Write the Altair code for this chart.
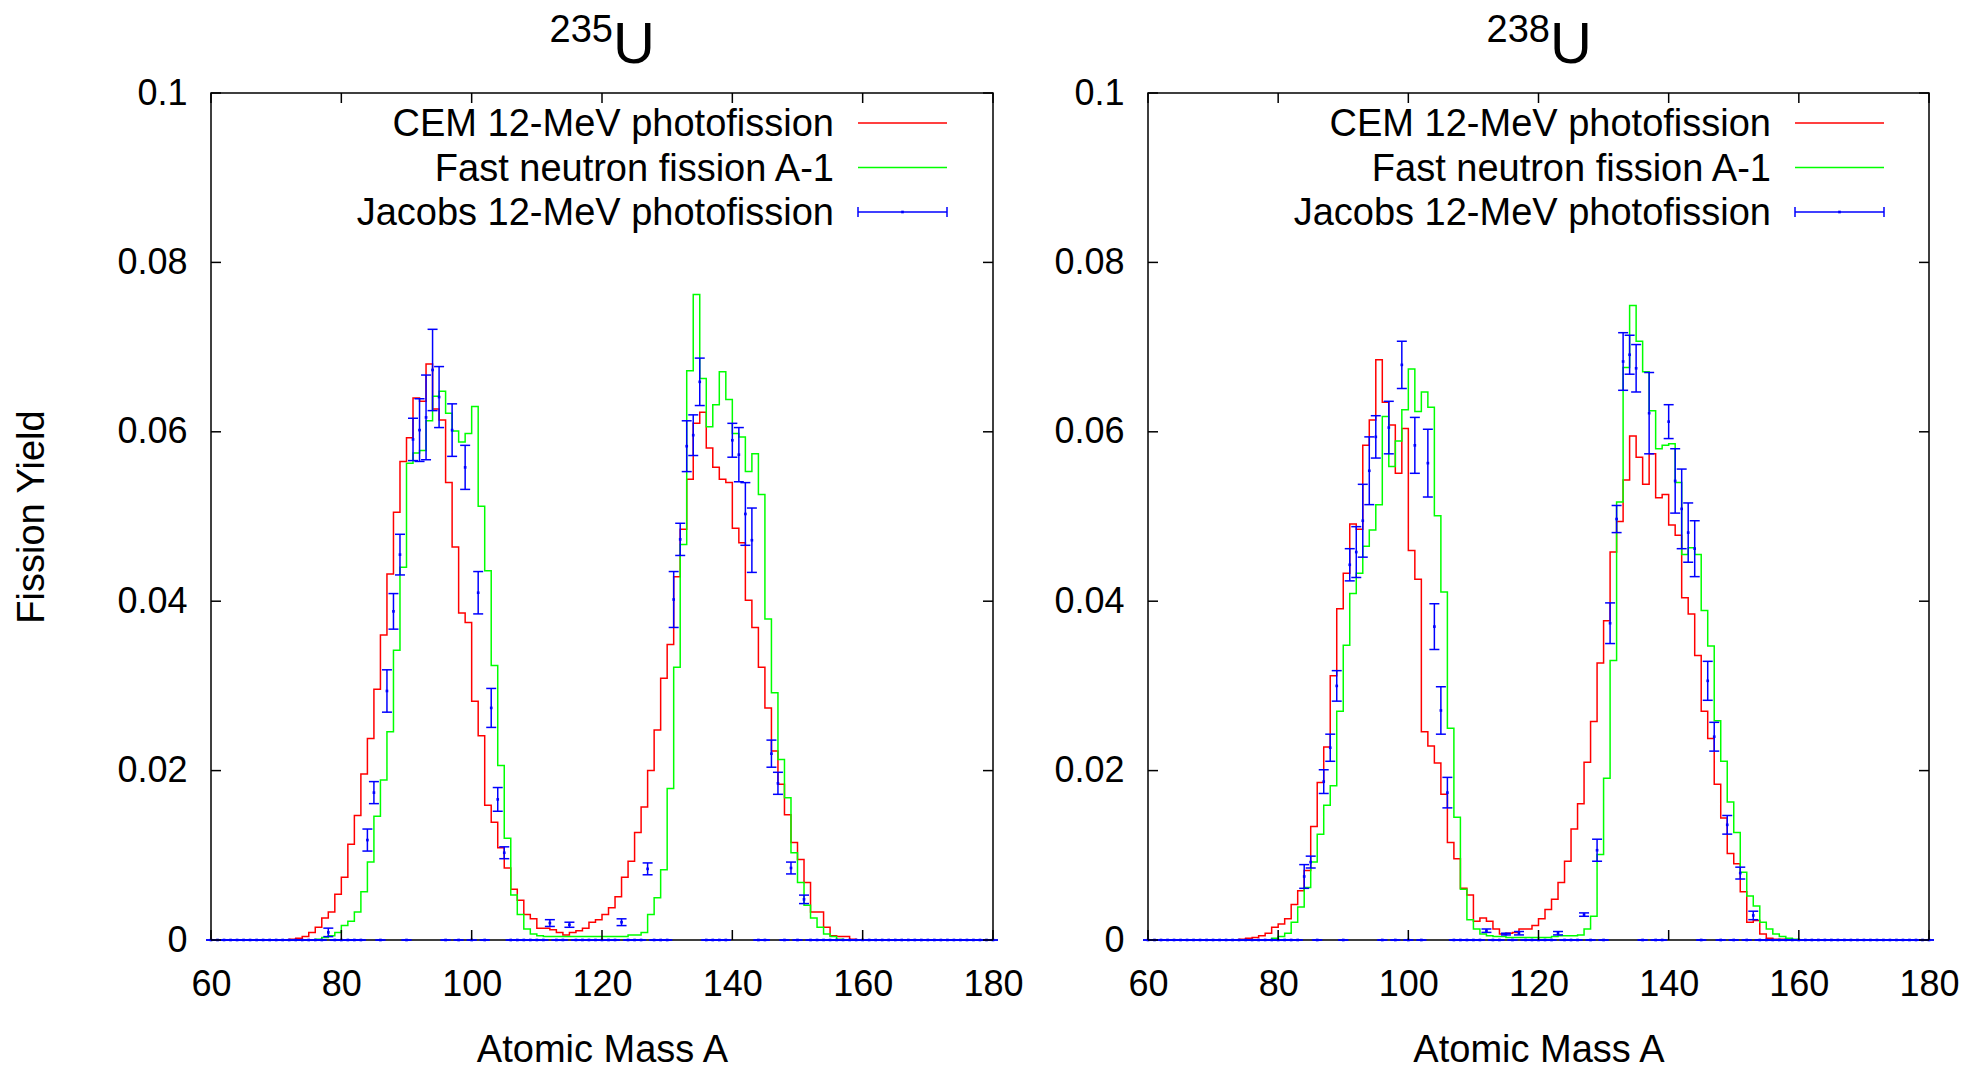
import altair as alt
import pandas as pd

FONT = "Liberation Sans"
RED, GREEN, BLUE = "#ff0000", "#00ff00", "#0000ff"

# mass numbers A on the x axis (one histogram bin per A)
mass_numbers = list(range(60, 181))

x_ticks = [60, 80, 100, 120, 140, 160, 180]
y_ticks = [0, 0.02, 0.04, 0.06, 0.08, 0.1]
legend_labels = ["CEM 12-MeV photofission", "Fast neutron fission A-1", "Jacobs 12-MeV photofission"]
panel_titles = ["235", "238"]

# ---------------- 235U ----------------
cem_235 = [
    0, 0, 0, 0, 0, 0, 0, 0, 0, 0,
    0, 0, 0.0001, 0.0002, 0.0004, 0.0009, 0.0015, 0.0026, 0.0033, 0.0054,
    0.0074, 0.0113, 0.0147, 0.0196, 0.0238, 0.0296, 0.0360, 0.0432, 0.0505, 0.0565,
    0.0593, 0.0640, 0.0636, 0.0680, 0.0627, 0.0614, 0.0540, 0.0464, 0.0386, 0.0375,
    0.0282, 0.0241, 0.0159, 0.0139, 0.0109, 0.0085, 0.0060, 0.0047, 0.0030, 0.0025,
    0.0014, 0.0014, 0.0012, 0.0009, 0.0006, 0.0009, 0.0011, 0.0014, 0.0021, 0.0024,
    0.0030, 0.0038, 0.0051, 0.0074, 0.0093, 0.0127, 0.0157, 0.0200, 0.0248, 0.0309,
    0.0349, 0.0429, 0.0485, 0.0544, 0.0610, 0.0623, 0.0581, 0.0558, 0.0544, 0.0540,
    0.0486, 0.0469, 0.0401, 0.0369, 0.0322, 0.0274, 0.0223, 0.0184, 0.0148, 0.0115,
    0.0095, 0.0068, 0.0033, 0.0033, 0.0015, 0.0005, 0.0004, 0.0004, 0.0001, 0,
    0, 0, 0, 0, 0, 0, 0, 0, 0, 0,
    0, 0, 0, 0, 0, 0, 0, 0, 0, 0,
    0,
]
fast_235 = [
    0, 0, 0, 0, 0, 0, 0, 0, 0, 0,
    0, 0, 0, 0, 0, 0, 0.0001, 0.0003, 0.0005, 0.0009,
    0.0017, 0.0022, 0.0033, 0.0057, 0.0092, 0.0146, 0.0189, 0.0246, 0.0342, 0.0440,
    0.0563, 0.0575, 0.0578, 0.0613, 0.0642, 0.0648, 0.0622, 0.0601, 0.0588, 0.0598,
    0.0630, 0.0512, 0.0436, 0.0324, 0.0206, 0.0120, 0.0053, 0.0030, 0.0013, 0.0007,
    0.0005, 0.0004, 0.0004, 0.0004, 0.0004, 0.0004, 0.0004, 0.0004, 0.0004, 0.0004,
    0.0004, 0.0004, 0.0004, 0.0004, 0.0006, 0.0006, 0.0009, 0.0030, 0.0050, 0.0083,
    0.0179, 0.0322, 0.0467, 0.0672, 0.0762, 0.0663, 0.0606, 0.0632, 0.0671, 0.0638,
    0.0598, 0.0594, 0.0553, 0.0574, 0.0526, 0.0379, 0.0292, 0.0213, 0.0168, 0.0103,
    0.0068, 0.0041, 0.0026, 0.0015, 0.0007, 0.0004, 0.0001, 0, 0, 0,
    0, 0, 0, 0, 0, 0, 0, 0, 0, 0,
    0, 0, 0, 0, 0, 0, 0, 0, 0, 0,
    0,
]
jacobs_235_A = [78, 84, 85, 87, 88, 89, 91, 92, 93, 94, 95, 97, 99, 101, 103, 104, 105,
                112, 115, 123, 127, 131, 132, 133, 134, 135, 140, 141, 142, 143, 146, 147, 149, 151]
jacobs_235_y = [0.0009, 0.0118, 0.0174, 0.0294, 0.0388, 0.0455, 0.0591, 0.0602, 0.0617, 0.0673,
                0.0641, 0.0602, 0.0558, 0.0410, 0.0274, 0.0166, 0.0103,
                0.0020, 0.0018, 0.0021, 0.0084, 0.0402, 0.0473, 0.0583, 0.0596, 0.0659,
                0.0590, 0.0573, 0.0503, 0.0472, 0.0220, 0.0185, 0.0085, 0.0048]
jacobs_235_err = [0.0005, 0.0013, 0.0013, 0.0025, 0.0021, 0.0024, 0.0025, 0.0037, 0.0050, 0.0048,
                  0.0036, 0.0031, 0.0026, 0.0025, 0.0023, 0.0014, 0.0007,
                  0.0004, 0.0003, 0.0004, 0.0007, 0.0033, 0.0019, 0.0030, 0.0024, 0.0028,
                  0.0020, 0.0032, 0.0037, 0.0038, 0.0016, 0.0013, 0.0007, 0.0005]

# ---------------- 238U ----------------
cem_238 = [
    0, 0, 0, 0, 0, 0, 0, 0, 0, 0,
    0, 0, 0, 0, 0.0001, 0.0002, 0.0003, 0.0005, 0.0008, 0.0015,
    0.0019, 0.0025, 0.0042, 0.0058, 0.0082, 0.0134, 0.0186, 0.0228, 0.0312, 0.0391,
    0.0433, 0.0491, 0.0485, 0.0584, 0.0614, 0.0685, 0.0635, 0.0608, 0.0551, 0.0604,
    0.0460, 0.0426, 0.0246, 0.0229, 0.0209, 0.0172, 0.0115, 0.0096, 0.0061, 0.0053,
    0.0022, 0.0026, 0.0022, 0.0013, 0.0007, 0.0008, 0.0009, 0.0013, 0.0013, 0.0017,
    0.0025, 0.0036, 0.0048, 0.0068, 0.0093, 0.0131, 0.0161, 0.0210, 0.0258, 0.0327,
    0.0377, 0.0458, 0.0494, 0.0543, 0.0595, 0.0570, 0.0538, 0.0574, 0.0522, 0.0526,
    0.0490, 0.0478, 0.0404, 0.0385, 0.0336, 0.0270, 0.0238, 0.0184, 0.0144, 0.0102,
    0.0090, 0.0057, 0.0021, 0.0023, 0.0007, 0.0002, 0.0001, 0.0001, 0, 0,
    0, 0, 0, 0, 0, 0, 0, 0, 0, 0,
    0, 0, 0, 0, 0, 0, 0, 0, 0, 0,
    0,
]
fast_238 = [
    0, 0, 0, 0, 0, 0, 0, 0, 0, 0,
    0, 0, 0, 0, 0, 0, 0, 0, 0, 0.0002,
    0.0004, 0.0008, 0.0021, 0.0039, 0.0062, 0.0092, 0.0125, 0.0159, 0.0182, 0.0270,
    0.0348, 0.0409, 0.0433, 0.0465, 0.0484, 0.0514, 0.0618, 0.0559, 0.0589, 0.0626,
    0.0674, 0.0624, 0.0647, 0.0629, 0.0501, 0.0411, 0.0250, 0.0145, 0.0060, 0.0024,
    0.0013, 0.0007, 0.0005, 0.0004, 0.0004, 0.0003, 0.0003, 0.0003, 0.0003, 0.0003,
    0.0003, 0.0003, 0.0004, 0.0005, 0.0005, 0.0005, 0.0006, 0.0013, 0.0028, 0.0101,
    0.0191, 0.0330, 0.0517, 0.0676, 0.0749, 0.0707, 0.0671, 0.0625, 0.0580, 0.0584,
    0.0586, 0.0540, 0.0455, 0.0463, 0.0455, 0.0389, 0.0347, 0.0259, 0.0211, 0.0163,
    0.0127, 0.0080, 0.0052, 0.0040, 0.0021, 0.0013, 0.0007, 0.0004, 0.0002, 0.0001,
    0, 0, 0, 0, 0, 0, 0, 0, 0, 0,
    0, 0, 0, 0, 0, 0, 0, 0, 0, 0,
    0,
]
jacobs_238_A = [84, 85, 87, 88, 89, 91, 92, 93, 94, 95, 97, 99, 101, 103, 104, 105, 106,
                112, 115, 117, 123, 127, 129, 131, 132, 133, 134, 135, 137, 140, 141, 142,
                143, 144, 146, 147, 149, 151, 153]
jacobs_238_y = [0.0075, 0.0092, 0.0187, 0.0227, 0.0300, 0.0443, 0.0458, 0.0495, 0.0554, 0.0594,
                0.0605, 0.0679, 0.0584, 0.0563, 0.0370, 0.0271, 0.0174,
                0.0011, 0.0007, 0.0008, 0.0008, 0.0030, 0.0106, 0.0374, 0.0497, 0.0683,
                0.0691, 0.0675, 0.0622, 0.0612, 0.0542, 0.0509, 0.0481, 0.0462, 0.0306,
                0.0240, 0.0136, 0.0079, 0.0029]
jacobs_238_err = [0.0014, 0.0007, 0.0014, 0.0016, 0.0018, 0.0019, 0.0030, 0.0043, 0.0040, 0.0025,
                  0.0031, 0.0028, 0.0033, 0.0040, 0.0027, 0.0028, 0.0018,
                  0.0002, 0.0001, 0.0002, 0.0002, 0.0002, 0.0013, 0.0024, 0.0016, 0.0034,
                  0.0023, 0.0028, 0.0048, 0.0020, 0.0038, 0.0047, 0.0035, 0.0033, 0.0023,
                  0.0017, 0.0011, 0.0007, 0.0005]

H = 847
FS_LABEL = 36
FS_TEXT = 38


def one_row(**kw):
    return alt.Data(values=[kw])


def panel(cem, fast, jA, jY, jE, sup, ytitle, width):
    hist_c = pd.DataFrame({"A": mass_numbers, "val": cem})
    hist_f = pd.DataFrame({"A": mass_numbers, "val": fast})
    measured = {a: (y, e) for a, y, e in zip(jA, jY, jE)}
    jy = [measured[a][0] if a in measured else 0.0 for a in mass_numbers]
    je = [measured[a][1] if a in measured else 0.0 for a in mass_numbers]
    jac = pd.DataFrame({
        "A": mass_numbers,
        "val": jy,
        "lo": [y - e for y, e in zip(jy, je)],
        "hi": [y + e for y, e in zip(jy, je)],
    })

    xs = alt.Scale(domain=[60, 180], nice=False, zero=False)
    ys = alt.Scale(domain=[0, 0.1], nice=False, zero=False)
    xax = alt.Axis(values=x_ticks, format="d", labelPadding=27, labelFlush=False,
                   titleX=width / 2, titleY=121, titleBaseline="alphabetic", titleAlign="center")
    yax = alt.Axis(values=y_ticks, format="~g", labelPadding=24, labelFlush=False,
                   titleX=-179, titleY=H / 2, titleAngle=270, titleAlign="center",
                   titleBaseline="middle")

    def X(f="A:Q"):
        return alt.X(f, scale=xs, axis=xax, title="Atomic Mass A")

    def Y(f):
        return alt.Y(f, scale=ys, axis=yax, title=ytitle)

    layers = []
    layers.append(alt.Chart(hist_c).mark_line(interpolate="step-after", color=RED, strokeWidth=1.5)
                  .encode(x=X(), y=Y("val:Q")))
    layers.append(alt.Chart(hist_f).mark_line(interpolate="step-after", color=GREEN, strokeWidth=1.5)
                  .encode(x=X(), y=Y("val:Q")))
    layers.append(alt.Chart(jac).mark_rule(color=BLUE, strokeWidth=1.5)
                  .encode(x=X(), y=Y("lo:Q"), y2="hi:Q"))
    layers.append(alt.Chart(jac).mark_tick(orient="horizontal", size=10, thickness=1.5, color=BLUE, opacity=1)
                  .encode(x=X(), y=Y("lo:Q")))
    layers.append(alt.Chart(jac).mark_tick(orient="horizontal", size=10, thickness=1.5, color=BLUE, opacity=1)
                  .encode(x=X(), y=Y("hi:Q")))
    layers.append(alt.Chart(jac).mark_square(size=7, color=BLUE, opacity=1)
                  .encode(x=X(), y=Y("val:Q")))

    # inward ticks on all four sides
    yt = pd.DataFrame({"val": y_ticks})
    xt = pd.DataFrame({"A": x_ticks})
    tick_style = dict(color="black", strokeWidth=1.5)
    layers.append(alt.Chart(yt).mark_rule(**tick_style)
                  .encode(y=Y("val:Q"), x=alt.value(0), x2=alt.value(10)))
    layers.append(alt.Chart(yt).mark_rule(**tick_style)
                  .encode(y=Y("val:Q"), x=alt.value(width - 10), x2=alt.value(width)))
    layers.append(alt.Chart(xt).mark_rule(**tick_style)
                  .encode(x=X(), y=alt.value(H - 10), y2=alt.value(H)))
    layers.append(alt.Chart(xt).mark_rule(**tick_style)
                  .encode(x=X(), y=alt.value(0), y2=alt.value(10)))

    # legend
    rows = [30, 74.5, 119]
    for lbl, ry in zip(legend_labels, rows):
        layers.append(alt.Chart(one_row(t=lbl)).mark_text(align="right", baseline="middle",
                                                         fontSize=FS_TEXT, font=FONT, color="black")
                      .encode(x=alt.value(623), y=alt.value(ry + 2), text="t:N"))
    for col, ry in zip([RED, GREEN, BLUE], rows):
        layers.append(alt.Chart(one_row(k=0)).mark_rule(color=col, strokeWidth=1.5)
                      .encode(x=alt.value(647), x2=alt.value(736), y=alt.value(ry)))
    for cx in [647, 736]:
        layers.append(alt.Chart(one_row(k=0)).mark_rule(color=BLUE, strokeWidth=1.5)
                      .encode(x=alt.value(cx), y=alt.value(rows[2] - 5), y2=alt.value(rows[2] + 5)))
    layers.append(alt.Chart(one_row(k=0)).mark_square(size=7, color=BLUE, opacity=1)
                  .encode(x=alt.value(691.5), y=alt.value(rows[2])))

    # panel title: superscript mass number + U
    layers.append(alt.Chart(one_row(t=sup)).mark_text(align="right", baseline="alphabetic",
                                                     fontSize=38, font=FONT, color="black")
                  .encode(x=alt.value(402), y=alt.value(-51), text="t:N"))
    layers.append(alt.Chart(one_row(t="U")).mark_text(align="left", baseline="alphabetic",
                                                     fontSize=58, font=FONT, color="black")
                  .encode(x=alt.value(402), y=alt.value(-30), text="t:N"))

    return alt.layer(*layers).properties(width=width, height=H)


left = panel(cem_235, fast_235, jacobs_235_A, jacobs_235_y, jacobs_235_err, panel_titles[0], "Fission Yield", 782)
right = panel(cem_238, fast_238, jacobs_238_A, jacobs_238_y, jacobs_238_err, panel_titles[1], None, 781)

chart = (
    alt.hconcat(left, right, spacing=155, bounds="flush")
    .properties(padding={"left": 12, "top": 11, "right": 0, "bottom": 0}, background="white")
    .configure(font=FONT)
    .configure_view(stroke="black", strokeWidth=1.5)
    .configure_axis(
        domain=False, ticks=False, tickSize=0, grid=False,
        labelFont=FONT, labelFontSize=FS_LABEL, labelColor="black",
        titleFont=FONT, titleFontSize=FS_TEXT, titleFontWeight="normal", titleColor="black",
    )
)

chart.save("out.html", embed_options={"renderer": "svg", "actions": False})
